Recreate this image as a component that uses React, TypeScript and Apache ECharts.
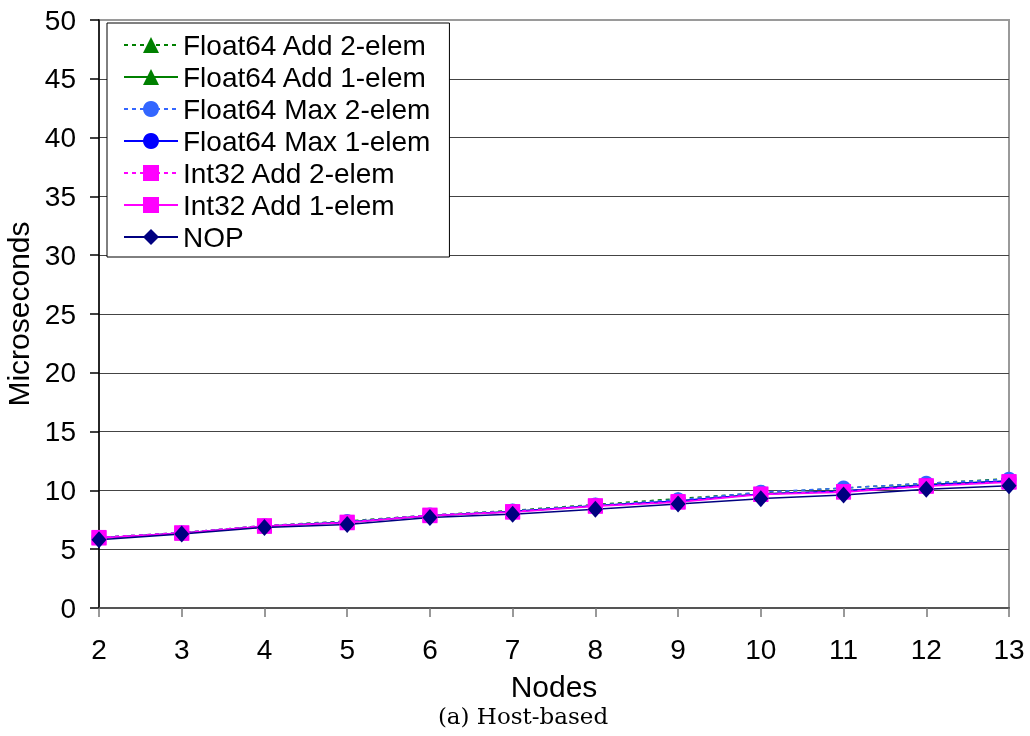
import React, { useEffect, useRef } from "react";
import * as echarts from "echarts";

const nodes = ["2", "3", "4", "5", "6", "7", "8", "9", "10", "11", "12", "13"];
const float64Add2 = [6.0, 6.4, 7.0, 7.4, 7.9, 8.3, 8.8, 9.3, 9.8, 10.2, 10.6, 11.0];
const float64Add1 = [5.95, 6.35, 6.95, 7.3, 7.85, 8.2, 8.7, 9.1, 9.7, 9.95, 10.5, 10.8];
const float64Max2 = [6.0, 6.4, 7.0, 7.35, 7.9, 8.25, 8.75, 9.2, 9.85, 10.2, 10.6, 10.95];
const float64Max1 = [5.95, 6.35, 6.95, 7.3, 7.85, 8.2, 8.7, 9.1, 9.7, 9.95, 10.45, 10.8];
const int32Add2 = [6.0, 6.4, 7.0, 7.3, 7.9, 8.2, 8.7, 9.05, 9.7, 9.9, 10.4, 10.75];
const int32Add1 = [5.95, 6.35, 6.95, 7.25, 7.85, 8.15, 8.65, 9.0, 9.65, 9.85, 10.35, 10.7];
const nop = [5.8, 6.3, 6.85, 7.1, 7.7, 7.97, 8.4, 8.85, 9.3, 9.6, 10.1, 10.4];

const FONT = "'Liberation Sans', Arial, sans-serif";

export default function App() {
  const ref = useRef<HTMLDivElement>(null);
  useEffect(() => {
    document.body.style.margin = "0";
    const chart = echarts.init(ref.current!, null, { renderer: "svg" });
    const mk = (
      name: string,
      data: number[],
      color: string,
      dashed: boolean,
      symbol: string,
      size: number | number[]
    ) => ({
      name,
      type: "line",
      data,
      symbol,
      symbolSize: size,
      showAllSymbol: true,
      itemStyle: { color },
      lineStyle: { color, width: 1.5, type: dashed ? [4, 4] : "solid" },
      emphasis: { disabled: true },
    });
    chart.setOption({
      animation: false,
      textStyle: { fontFamily: FONT },
      grid: {
        left: 99,
        right: 21,
        top: 20,
        bottom: 128,
        show: true,
        borderColor: "#9a9a9a",
        borderWidth: 2,
        backgroundColor: "transparent",
        outerBoundsMode: "none",
        containLabel: false,
      },
      legend: {
        left: 107,
        top: 23,
        orient: "vertical",
        padding: [8, 19, 6, 16],
        itemWidth: 54,
        itemHeight: 20,
        itemGap: 4,
        borderColor: "#000",
        borderWidth: 1,
        backgroundColor: "#fff",
        textStyle: { fontSize: 28, color: "#000", fontFamily: FONT },
      },
      xAxis: {
        type: "category",
        data: nodes,
        boundaryGap: false,
        name: "Nodes",
        nameLocation: "middle",
        nameGap: 63,
        nameTextStyle: { fontSize: 30, color: "#000", fontFamily: FONT },
        axisLine: { lineStyle: { color: "#555", width: 2 } },
        axisTick: { show: true, length: 9, lineStyle: { color: "#777", width: 1.5 } },
        axisLabel: { fontSize: 28, color: "#000", margin: 27, fontFamily: FONT },
        splitLine: { show: false },
      },
      yAxis: {
        type: "value",
        min: 0,
        max: 50,
        interval: 5,
        name: "Microseconds",
        nameLocation: "middle",
        nameGap: 62,
        nameTextStyle: { fontSize: 30, color: "#000", fontFamily: FONT },
        axisLine: { show: true, lineStyle: { color: "#000", width: 1.5 } },
        axisTick: { show: true, length: 9, lineStyle: { color: "#000", width: 1.5 } },
        axisLabel: { fontSize: 28, color: "#000", margin: 23, fontFamily: FONT },
        splitLine: { show: true, showMaxLine: false, lineStyle: { color: "#444", width: 1.2 } },
      },
      series: [
        mk("Float64 Add 2-elem", float64Add2, "#008000", true, "triangle", 14),
        mk("Float64 Add 1-elem", float64Add1, "#008000", false, "triangle", 14),
        mk("Float64 Max 2-elem", float64Max2, "#3366ff", true, "circle", 15),
        mk("Float64 Max 1-elem", float64Max1, "#0000ff", false, "circle", 14),
        mk("Int32 Add 2-elem", int32Add2, "#ff00ff", true, "rect", 15),
        mk("Int32 Add 1-elem", int32Add1, "#ff00ff", false, "rect", 15),
        mk("NOP", nop, "#000080", false, "diamond", [15, 17]),
      ],
      graphic: [
        {
          type: "text",
          x: 523,
          y: 716,
          style: {
            text: "(a) Host-based",
            fontFamily: "'DejaVu Serif', serif",
            fontSize: 23,
            fill: "#000",
            align: "center",
            verticalAlign: "middle",
          },
        },
      ],
    });
    return () => chart.dispose();
  }, []);
  return (
    <div
      ref={ref}
      style={{ position: "fixed", left: 0, top: 0, width: 1030, height: 736 }}
    />
  );
}
